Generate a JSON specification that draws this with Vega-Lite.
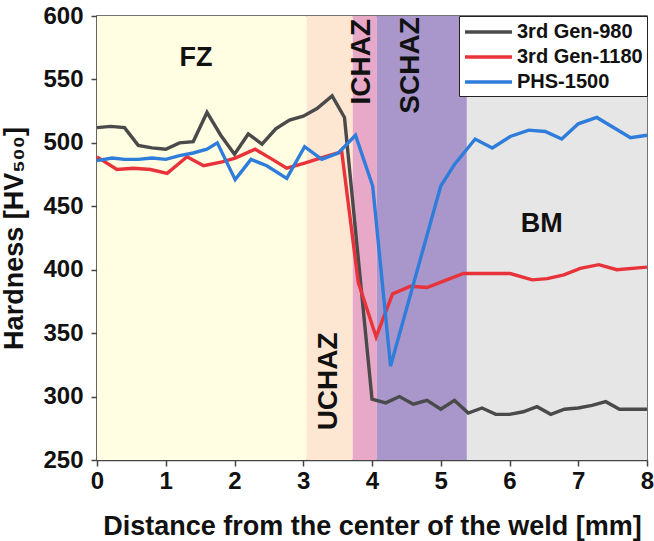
{
  "$schema": "https://vega.github.io/schema/vega-lite/v6.json",
  "width": 550,
  "height": 444,
  "autosize": "none",
  "padding": {"left": 97, "top": 16, "right": 7, "bottom": 81},
  "config": {
    "font": "Liberation Sans",
    "view": {"stroke": "#444444", "strokeWidth": 1.5},
    "axis": {
      "zindex": 1,
      "labelFont": "Liberation Sans",
      "labelFontSize": 24,
      "labelFontWeight": "bold",
      "labelColor": "#111111",
      "labelFlush": false,
      "titleFont": "Liberation Sans",
      "titleFontSize": 27,
      "titleFontWeight": "bold",
      "titleColor": "#111111",
      "domainColor": "#444444",
      "domainWidth": 1.5,
      "tickColor": "#444444",
      "tickWidth": 1.5,
      "tickSize": 6,
      "grid": true,
      "gridColor": "#777777",
      "gridDash": [2, 3],
      "gridWidth": 1,
      "gridOpacity": 0.8
    }
  },
  "datasets": {
    "zones": [
      {"zone": "FZ", "x0": 0, "x1": 3.05},
      {"zone": "UCHAZ", "x0": 3.05, "x1": 3.72},
      {"zone": "ICHAZ", "x0": 3.72, "x1": 4.07},
      {"zone": "SCHAZ", "x0": 4.07, "x1": 5.38},
      {"zone": "BM", "x0": 5.38, "x1": 8}
    ],
    "lines": [
      {"series": "3rd Gen-980", "x": 0, "y": 512},
      {"series": "3rd Gen-980", "x": 0.2, "y": 513},
      {"series": "3rd Gen-980", "x": 0.4, "y": 512},
      {"series": "3rd Gen-980", "x": 0.6, "y": 498},
      {"series": "3rd Gen-980", "x": 0.8, "y": 496},
      {"series": "3rd Gen-980", "x": 1.0, "y": 495},
      {"series": "3rd Gen-980", "x": 1.2, "y": 500},
      {"series": "3rd Gen-980", "x": 1.4, "y": 501},
      {"series": "3rd Gen-980", "x": 1.6, "y": 524},
      {"series": "3rd Gen-980", "x": 1.8, "y": 506},
      {"series": "3rd Gen-980", "x": 2.0, "y": 491},
      {"series": "3rd Gen-980", "x": 2.2, "y": 507},
      {"series": "3rd Gen-980", "x": 2.4, "y": 499},
      {"series": "3rd Gen-980", "x": 2.6, "y": 511},
      {"series": "3rd Gen-980", "x": 2.8, "y": 518},
      {"series": "3rd Gen-980", "x": 3.0, "y": 521},
      {"series": "3rd Gen-980", "x": 3.2, "y": 527},
      {"series": "3rd Gen-980", "x": 3.42, "y": 537},
      {"series": "3rd Gen-980", "x": 3.6, "y": 520},
      {"series": "3rd Gen-980", "x": 4.0, "y": 298},
      {"series": "3rd Gen-980", "x": 4.2, "y": 295},
      {"series": "3rd Gen-980", "x": 4.4, "y": 300},
      {"series": "3rd Gen-980", "x": 4.6, "y": 294},
      {"series": "3rd Gen-980", "x": 4.8, "y": 297},
      {"series": "3rd Gen-980", "x": 5.0, "y": 290},
      {"series": "3rd Gen-980", "x": 5.2, "y": 297},
      {"series": "3rd Gen-980", "x": 5.4, "y": 287},
      {"series": "3rd Gen-980", "x": 5.6, "y": 291},
      {"series": "3rd Gen-980", "x": 5.8, "y": 286},
      {"series": "3rd Gen-980", "x": 6.0, "y": 286},
      {"series": "3rd Gen-980", "x": 6.2, "y": 288},
      {"series": "3rd Gen-980", "x": 6.4, "y": 292},
      {"series": "3rd Gen-980", "x": 6.6, "y": 286},
      {"series": "3rd Gen-980", "x": 6.8, "y": 290},
      {"series": "3rd Gen-980", "x": 7.0, "y": 291},
      {"series": "3rd Gen-980", "x": 7.2, "y": 293},
      {"series": "3rd Gen-980", "x": 7.4, "y": 296},
      {"series": "3rd Gen-980", "x": 7.6, "y": 290},
      {"series": "3rd Gen-980", "x": 7.8, "y": 290},
      {"series": "3rd Gen-980", "x": 8.0, "y": 290},
      {"series": "3rd Gen-1180", "x": 0, "y": 489},
      {"series": "3rd Gen-1180", "x": 0.29, "y": 479},
      {"series": "3rd Gen-1180", "x": 0.53, "y": 480},
      {"series": "3rd Gen-1180", "x": 0.78, "y": 479},
      {"series": "3rd Gen-1180", "x": 1.02, "y": 476},
      {"series": "3rd Gen-1180", "x": 1.31, "y": 489},
      {"series": "3rd Gen-1180", "x": 1.55, "y": 482},
      {"series": "3rd Gen-1180", "x": 1.82, "y": 485},
      {"series": "3rd Gen-1180", "x": 2.01, "y": 488},
      {"series": "3rd Gen-1180", "x": 2.3, "y": 495},
      {"series": "3rd Gen-1180", "x": 2.55, "y": 487},
      {"series": "3rd Gen-1180", "x": 2.76, "y": 480},
      {"series": "3rd Gen-1180", "x": 3.02, "y": 484},
      {"series": "3rd Gen-1180", "x": 3.25, "y": 488},
      {"series": "3rd Gen-1180", "x": 3.56, "y": 493},
      {"series": "3rd Gen-1180", "x": 3.8, "y": 390},
      {"series": "3rd Gen-1180", "x": 4.06, "y": 347},
      {"series": "3rd Gen-1180", "x": 4.3, "y": 381},
      {"series": "3rd Gen-1180", "x": 4.56, "y": 387},
      {"series": "3rd Gen-1180", "x": 4.8, "y": 386},
      {"series": "3rd Gen-1180", "x": 5.04, "y": 391},
      {"series": "3rd Gen-1180", "x": 5.33, "y": 397},
      {"series": "3rd Gen-1180", "x": 5.65, "y": 397},
      {"series": "3rd Gen-1180", "x": 6.01, "y": 397},
      {"series": "3rd Gen-1180", "x": 6.33, "y": 392},
      {"series": "3rd Gen-1180", "x": 6.55, "y": 393},
      {"series": "3rd Gen-1180", "x": 6.79, "y": 396},
      {"series": "3rd Gen-1180", "x": 7.03, "y": 401},
      {"series": "3rd Gen-1180", "x": 7.3, "y": 404},
      {"series": "3rd Gen-1180", "x": 7.56, "y": 400},
      {"series": "3rd Gen-1180", "x": 8.0, "y": 402},
      {"series": "PHS-1500", "x": 0, "y": 486},
      {"series": "PHS-1500", "x": 0.22, "y": 488},
      {"series": "PHS-1500", "x": 0.4, "y": 487},
      {"series": "PHS-1500", "x": 0.6, "y": 487},
      {"series": "PHS-1500", "x": 0.8, "y": 488},
      {"series": "PHS-1500", "x": 1.0, "y": 487},
      {"series": "PHS-1500", "x": 1.2, "y": 490},
      {"series": "PHS-1500", "x": 1.4, "y": 492},
      {"series": "PHS-1500", "x": 1.6, "y": 495},
      {"series": "PHS-1500", "x": 1.75, "y": 500},
      {"series": "PHS-1500", "x": 2.01, "y": 471},
      {"series": "PHS-1500", "x": 2.24, "y": 487},
      {"series": "PHS-1500", "x": 2.47, "y": 482},
      {"series": "PHS-1500", "x": 2.76, "y": 472},
      {"series": "PHS-1500", "x": 3.02, "y": 497},
      {"series": "PHS-1500", "x": 3.27, "y": 487},
      {"series": "PHS-1500", "x": 3.51, "y": 492},
      {"series": "PHS-1500", "x": 3.76, "y": 506},
      {"series": "PHS-1500", "x": 4.01, "y": 466},
      {"series": "PHS-1500", "x": 4.27, "y": 324},
      {"series": "PHS-1500", "x": 5.0, "y": 466},
      {"series": "PHS-1500", "x": 5.2, "y": 483},
      {"series": "PHS-1500", "x": 5.5, "y": 503},
      {"series": "PHS-1500", "x": 5.75, "y": 496},
      {"series": "PHS-1500", "x": 6.01, "y": 505},
      {"series": "PHS-1500", "x": 6.28, "y": 510},
      {"series": "PHS-1500", "x": 6.52, "y": 509},
      {"series": "PHS-1500", "x": 6.76, "y": 503},
      {"series": "PHS-1500", "x": 7.0, "y": 515},
      {"series": "PHS-1500", "x": 7.27, "y": 520},
      {"series": "PHS-1500", "x": 7.76, "y": 504},
      {"series": "PHS-1500", "x": 8.0, "y": 506}
    ],
    "hlabels": [
      {"label": "FZ", "x": 1.44, "y": 567},
      {"label": "BM", "x": 6.47, "y": 436}
    ],
    "vlabels": [
      {"label": "UCHAZ", "x": 3.38, "y": 312},
      {"label": "ICHAZ", "x": 3.85, "y": 564},
      {"label": "SCHAZ", "x": 4.57, "y": 561}
    ]
  },
  "layer": [
    {
      "data": {"name": "zones"},
      "mark": {"type": "rect"},
      "encoding": {
        "x": {"field": "x0", "type": "quantitative", "scale": {"domain": [0, 8], "nice": false, "zero": false},
          "axis": {"title": "Distance from the center of the weld [mm]", "values": [0,1,2,3,4,5,6,7,8], "format": "d", "labelPadding": 3, "titlePadding": 20}},
        "x2": {"field": "x1"},
        "fill": {
          "field": "zone", "type": "nominal", "legend": null,
          "scale": {"domain": ["FZ", "UCHAZ", "ICHAZ", "SCHAZ", "BM"],
                    "range": ["#FFFDE2", "#FDE6D2", "#E8A9C8", "#A996CB", "#E6E6E6"]}
        }
      }
    },
    {
      "data": {"name": "lines"},
      "mark": {"type": "line", "strokeWidth": 3.4},
      "encoding": {
        "x": {"field": "x", "type": "quantitative"},
        "y": {"field": "y", "type": "quantitative", "scale": {"domain": [250, 600], "nice": false, "zero": false},
          "axis": {"title": "Hardness [HV₅₀₀]", "values": [250,300,350,400,450,500,550,600], "format": "d", "labelPadding": 8, "titlePadding": 14}},
        "stroke": {
          "field": "series", "type": "nominal",
          "scale": {"domain": ["3rd Gen-980", "3rd Gen-1180", "PHS-1500"], "range": ["#4A4A4A", "#E8333A", "#2E7DDB"]},
          "legend": {
            "title": null, "orient": "top-right", "offset": 0,
            "fillColor": "white", "strokeColor": "#222222", "padding": 4,
            "symbolType": "M-1,0H3.7", "symbolSize": 400, "symbolStrokeWidth": 3.4,
            "labelFont": "Liberation Sans", "labelFontSize": 20, "labelFontWeight": "bold", "labelColor": "#111111",
            "labelOffset": 30, "rowPadding": 3
          }
        }
      }
    },
    {
      "data": {"name": "hlabels"},
      "mark": {"type": "text", "font": "Liberation Sans", "fontWeight": "bold", "fontSize": 27, "align": "center", "baseline": "middle", "color": "#111111"},
      "encoding": {
        "x": {"field": "x", "type": "quantitative"},
        "y": {"field": "y", "type": "quantitative"},
        "text": {"field": "label"}
      }
    },
    {
      "data": {"name": "vlabels"},
      "mark": {"type": "text", "font": "Liberation Sans", "fontWeight": "bold", "fontSize": 28, "align": "center", "baseline": "middle", "angle": 270, "color": "#111111"},
      "encoding": {
        "x": {"field": "x", "type": "quantitative"},
        "y": {"field": "y", "type": "quantitative"},
        "text": {"field": "label"}
      }
    }
  ]
}
